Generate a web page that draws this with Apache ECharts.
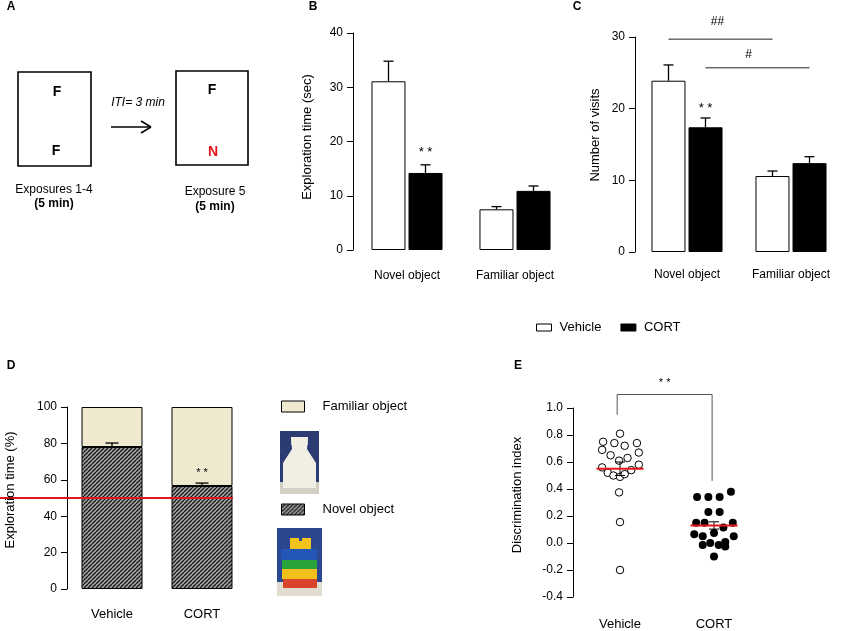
<!DOCTYPE html>
<html><head><meta charset="utf-8">
<script src="https://cdn.jsdelivr.net/npm/echarts@6/dist/echarts.min.js"></script>
<style>html,body{margin:0;padding:0;background:#fff}#c{width:843px;height:631px}</style>
</head><body><div id="c"></div>
<script>
// ---------- Panel B: exploration time (sec) ----------
const objCategories = ['Novel object', 'Familiar object'];
const explVehicle = [31.1, 7.5];
const explVehicleSem = [3.7, 0.5];
const explCort = [14.2, 10.9];
const explCortSem = [1.5, 0.9];
const explStar = [0, 17.9];
// ---------- Panel C: number of visits ----------
const visitsVehicle = [23.9, 10.6];
const visitsVehicleSem = [2.2, 0.7];
const visitsCort = [17.4, 12.4];
const visitsCortSem = [1.3, 0.9];
const visitsStar = [0, 20.0];
const visitsBracketLevels = [29.7, 25.7];
const visitsBracketLabels = ['##', '#'];
// ---------- Panel D: exploration time (%) ----------
const groups = ['Vehicle', 'CORT'];
const novelPct = [78.0, 56.6];
const novelPctSem = [2.2, 1.6];
const familiarPct = [22.0, 43.4];
const chanceLevel = 50;
const pctStar = [1, 63.7];
// ---------- Panel E: discrimination index ----------
const diVehicleX = [0.50,0.32,0.44,0.55,0.68,0.31,0.70,0.40,0.49,0.58,0.31,0.70,0.37,0.62,0.43,0.50,0.55,0.49,0.50,0.50];
const diVehicle  = [0.81,0.75,0.74,0.72,0.74,0.69,0.67,0.65,0.61,0.63,0.56,0.58,0.52,0.54,0.50,0.49,0.51,0.375,0.155,-0.20];
const diCortX = [1.32,1.44,1.56,1.68,1.44,1.56,1.31,1.40,1.70,1.60,1.29,1.38,1.50,1.71,1.38,1.46,1.55,1.62,1.62,1.50];
const diCort  = [0.34,0.34,0.34,0.38,0.23,0.23,0.15,0.15,0.15,0.115,0.065,0.05,0.075,0.05,-0.015,0.0,-0.015,0.007,-0.025,-0.10];
const diGroupX = [0.5, 1.5];
const diMean = [0.55, 0.13];
const diSem = [0.05, 0.027];
const diBracket = [[0.47, 0.95], [0.47, 1.10], [1.48, 1.10], [1.48, 0.46]];
const diStar = [0.975, 1.10];

const FF = '"Liberation Sans", Arial, Helvetica, sans-serif';
const chart = echarts.init(document.getElementById('c'));

function hatch() {
  const c = document.createElement('canvas');
  c.width = 4; c.height = 4;
  const g = c.getContext('2d');
  g.fillStyle = '#a3a3a3'; g.fillRect(0, 0, 4, 4);
  g.strokeStyle = '#1a1a1a'; g.lineWidth = 1.3;
  g.beginPath();
  for (const o of [-4, 0, 4]) { g.moveTo(o, 4); g.lineTo(o + 4, 0); }
  g.stroke();
  return { image: c, repeat: 'repeat' };
}

function yAx(grid, min, max, interval, fmt) {
  return {
    type: 'value', gridIndex: grid, min, max, interval,
    axisLine: { show: true, lineStyle: { color: '#000', width: 1 } },
    axisTick: { show: true, length: 6, lineStyle: { color: '#000' } },
    axisLabel: { color: '#000', fontSize: 12, fontFamily: FF, margin: 10, formatter: fmt },
    splitLine: { show: false }
  };
}
function xCat(grid, data, margin, size) {
  return {
    type: 'category', gridIndex: grid, data,
    axisLine: { show: false }, axisTick: { show: false },
    axisLabel: { color: '#000', fontSize: size, fontFamily: FF, margin, interval: 0 }
  };
}
function errSeries(xi, yi, means, sems, dx, cap) {
  return {
    type: 'custom', xAxisIndex: xi, yAxisIndex: yi, z: 5, silent: true,
    data: means.map((m, i) => [i, m, m + sems[i]]),
    renderItem(p, api) {
      const b = api.coord([api.value(0), api.value(1)]);
      const t = api.coord([api.value(0), api.value(2)]);
      const x = b[0] + dx;
      return { type: 'group', children: [
        { type: 'line', shape: { x1: x, y1: b[1], x2: x, y2: t[1] }, style: { stroke: '#000', lineWidth: 1.3 } },
        { type: 'line', shape: { x1: x - cap / 2, y1: t[1], x2: x + cap / 2, y2: t[1] }, style: { stroke: '#000', lineWidth: 1.3 } }
      ] };
    }
  };
}
function textSeries(xi, yi, point, label, dx, dy, size) {
  return {
    type: 'custom', xAxisIndex: xi, yAxisIndex: yi, z: 6, silent: true,
    data: [point],
    renderItem(p, api) {
      const c = api.coord([api.value(0), api.value(1)]);
      return { type: 'text', style: { text: label, x: c[0] + dx, y: c[1] + dy,
        align: 'center', verticalAlign: 'middle', textAlign: 'center', textVerticalAlign: 'middle',
        font: size + 'px ' + FF, fill: '#000' } };
    }
  };
}
function hBracket(xi, yi, level, label, dxBar, labelDx, labelDy) {
  return {
    type: 'custom', xAxisIndex: xi, yAxisIndex: yi, z: 6, silent: true,
    data: [[0, level], [1, level]],
    renderItem(p, api) {
      if (p.dataIndex !== 0) return null;
      const a = api.coord([0, level]), b = api.coord([1, level]);
      const x1 = a[0] + dxBar, x2 = b[0] + dxBar;
      return { type: 'group', children: [
        { type: 'line', shape: { x1, y1: a[1], x2, y2: a[1] }, style: { stroke: '#222', lineWidth: 1 } },
        { type: 'text', style: { text: label, x: (x1 + x2) / 2 + labelDx, y: a[1] - labelDy,
          align: 'center', verticalAlign: 'middle', textAlign: 'center', textVerticalAlign: 'middle',
          font: '12px ' + FF, fill: '#000' } }
      ] };
    }
  };
}

const BW = 34, OFF = 18.5;
const vehStyle = { color: '#fff', borderColor: '#000', borderWidth: 1 };
const cortStyle = { color: '#000', borderColor: '#000', borderWidth: 1 };

function box(x, y, w, h, fill, stroke, lw) {
  return { type: 'rect', z: 10, shape: { x, y, width: w, height: h }, style: { fill, stroke: stroke || null, lineWidth: lw || 0 } };
}
function ln(x1, y1, x2, y2, lw) {
  return { type: 'line', z: 10, shape: { x1, y1, x2, y2 }, style: { stroke: '#000', lineWidth: lw || 1.5 } };
}
function T(x, y, text, size, weight, style, color, rot) {
  return { type: 'text', x, y, rotation: rot || 0, z: 10, style: {
    text, font: (style || 'normal') + ' ' + (weight || 'normal') + ' ' + size + 'px ' + FF,
    fill: color || '#000', align: 'center', verticalAlign: 'middle', textAlign: 'center', textVerticalAlign: 'middle' } };
}

const graphics = [
  // panel letters
  T(11, 7, 'A', 12, 'bold'), T(313, 7, 'B', 12, 'bold'), T(577, 7, 'C', 12, 'bold'),
  T(11, 366, 'D', 12, 'bold'), T(518, 366, 'E', 12, 'bold'),
  // y-axis titles
  T(307, 137, 'Exploration time (sec)', 13, 'normal', 'normal', '#000', Math.PI / 2),
  T(595, 135, 'Number of visits', 13, 'normal', 'normal', '#000', Math.PI / 2),
  T(10, 490, 'Exploration time (%)', 13, 'normal', 'normal', '#000', Math.PI / 2),
  T(517, 495, 'Discrimination index', 13, 'normal', 'normal', '#000', Math.PI / 2),
  // panel A scheme
  box(18, 72, 73, 94, '#fff', '#000', 1.6),
  box(176, 71, 72, 94, '#fff', '#000', 1.6),
  T(57, 92, 'F', 14, 'bold'), T(56, 151, 'F', 14, 'bold'),
  T(212, 90, 'F', 14, 'bold'), T(213, 152, 'N', 14, 'bold', 'normal', '#e8141b'),
  T(138, 103, 'ITI= 3 min', 12, 'normal', 'italic'),
  ln(111, 127, 151, 127), ln(141, 121, 151, 127), ln(141, 133, 151, 127),
  T(54, 190, 'Exposures 1-4', 12), T(54, 204, '(5 min)', 12, 'bold'),
  T(215, 192, 'Exposure 5', 12), T(215, 207, '(5 min)', 12, 'bold'),
  // bottle photo
  box(280, 431, 39, 51, '#2c3c72'), box(280, 482, 39, 12, '#d3cfc2'),
  { type: 'polygon', z: 11, shape: { points: [[291, 437], [308, 437], [307, 449], [316, 463], [316, 488], [283, 488], [283, 463], [292, 449]] },
    style: { fill: '#f1eee4' } },
  box(291, 437, 17, 8, '#b9bccb'),
  // lego photo
  box(277, 528, 45, 54, '#2a478f'), box(277, 582, 45, 14, '#e0dccf'),
  box(290, 538, 21, 11, '#f3c21c'), box(299, 538, 3, 3, '#2a478f'),
  box(281, 549, 36, 11, '#2456b8'),
  box(282, 560, 35, 9, '#27a43c'),
  box(282, 569, 35, 10, '#f4c01b'),
  box(283, 579, 34, 9, '#d9432b')
];

const option = {
  animation: false,
  backgroundColor: '#fff',
  textStyle: { fontFamily: FF },
  legend: [
    { data: ['Vehicle', 'CORT'], left: 536, top: 321, padding: 0, itemWidth: 15, itemHeight: 7, itemGap: 19, icon: 'rect',
      selectedMode: false, itemStyle: { borderWidth: 1 },
      textStyle: { fontSize: 13, color: '#000', fontFamily: FF, padding: [0, 0, 0, 3] } },
    { data: ['Familiar object', 'Novel object'], orient: 'vertical', left: 281, top: 400, padding: 0, itemWidth: 23, itemHeight: 11,
      itemGap: 90, icon: 'rect', selectedMode: false, itemStyle: { borderWidth: 1 },
      textStyle: { fontSize: 13, color: '#000', fontFamily: FF, padding: [0, 0, 0, 13] } }
  ],
  grid: [
    { left: 353, top: 33, width: 216, height: 217 },
    { left: 635, top: 37, width: 217, height: 215 },
    { left: 67, top: 407, width: 180, height: 182 },
    { left: 573, top: 408, width: 188, height: 189 },
    { left: 0, top: 407, width: 233, height: 182 }
  ],
  xAxis: [
    xCat(0, objCategories, 20, 12),
    xCat(1, objCategories, 17, 12),
    xCat(2, groups, 19, 13),
    { type: 'value', gridIndex: 3, min: 0, max: 2, interval: 0.5,
      axisLine: { show: false }, axisTick: { show: false }, splitLine: { show: false },
      axisLabel: { color: '#000', fontSize: 13, fontFamily: FF, margin: 21,
        formatter: v => (Math.abs(v - diGroupX[0]) < 1e-6 ? groups[0] : Math.abs(v - diGroupX[1]) < 1e-6 ? groups[1] : '') } },
    { type: 'value', gridIndex: 4, min: 0, max: 1, show: false }
  ],
  yAxis: [
    yAx(0, 0, 40, 10),
    yAx(1, 0, 30, 10),
    yAx(2, 0, 100, 20),
    yAx(3, -0.4, 1.0, 0.2, v => (Math.abs(v) < 1e-9 ? 0 : v).toFixed(1)),
    { type: 'value', gridIndex: 4, min: 0, max: 100, show: false }
  ],
  series: [
    // B
    { type: 'bar', name: 'Vehicle', xAxisIndex: 0, yAxisIndex: 0, data: explVehicle, barWidth: BW, barGap: '9%', itemStyle: vehStyle },
    { type: 'bar', name: 'CORT', xAxisIndex: 0, yAxisIndex: 0, data: explCort, barWidth: BW, barGap: '9%', itemStyle: cortStyle },
    errSeries(0, 0, explVehicle, explVehicleSem, -OFF, 10),
    errSeries(0, 0, explCort, explCortSem, OFF, 10),
    textSeries(0, 0, explStar, '* *', OFF, 0, 13),
    // C
    { type: 'bar', name: 'Vehicle', xAxisIndex: 1, yAxisIndex: 1, data: visitsVehicle, barWidth: BW, barGap: '9%', itemStyle: vehStyle },
    { type: 'bar', name: 'CORT', xAxisIndex: 1, yAxisIndex: 1, data: visitsCort, barWidth: BW, barGap: '9%', itemStyle: cortStyle },
    errSeries(1, 1, visitsVehicle, visitsVehicleSem, -OFF, 10),
    errSeries(1, 1, visitsCort, visitsCortSem, OFF, 10),
    textSeries(1, 1, visitsStar, '* *', OFF, 0, 13),
    hBracket(1, 1, visitsBracketLevels[0], visitsBracketLabels[0], -OFF, -3, 17),
    hBracket(1, 1, visitsBracketLevels[1], visitsBracketLabels[1], OFF, -9, 13),
    // D
    { type: 'bar', name: 'Novel object', stack: 'pct', xAxisIndex: 2, yAxisIndex: 2, data: novelPct, barWidth: 61,
      itemStyle: { color: hatch(), borderColor: '#000', borderWidth: 1 } },
    { type: 'bar', name: 'Familiar object', stack: 'pct', xAxisIndex: 2, yAxisIndex: 2, data: familiarPct, barWidth: 61,
      itemStyle: { color: '#eee9cf', borderColor: '#000', borderWidth: 1 } },
    errSeries(2, 2, novelPct, novelPctSem, 0, 13),
    textSeries(2, 2, pctStar, '* *', 0, 0, 11),
    { type: 'line', xAxisIndex: 4, yAxisIndex: 4, z: 8, symbol: 'none', silent: true,
      data: [[0, chanceLevel], [1, chanceLevel]], lineStyle: { color: '#e8141b', width: 2 } },
    // E
    { type: 'scatter', name: 'di-vehicle', xAxisIndex: 3, yAxisIndex: 3, symbolSize: 7.5,
      data: diVehicle.map((v, i) => [diVehicleX[i], v]),
      itemStyle: { color: '#fff', borderColor: '#000', borderWidth: 1, opacity: 1 } },
    { type: 'scatter', name: 'di-cort', xAxisIndex: 3, yAxisIndex: 3, symbolSize: 8,
      data: diCort.map((v, i) => [diCortX[i], v]),
      itemStyle: { color: '#000', opacity: 1 } },
    { type: 'custom', xAxisIndex: 3, yAxisIndex: 3, z: 5, silent: true,
      data: diGroupX.map((x, i) => [x, diMean[i], diSem[i]]),
      renderItem(p, api) {
        const x = api.value(0), m = api.value(1), s = api.value(2);
        const l = api.coord([x - 0.25, m]), r = api.coord([x + 0.25, m]);
        const t = api.coord([x, m + s]), b = api.coord([x, m - s]);
        const cw = 5;
        return { type: 'group', children: [
          { type: 'line', shape: { x1: t[0], y1: t[1], x2: b[0], y2: b[1] }, style: { stroke: '#000', lineWidth: 1 } },
          { type: 'line', shape: { x1: t[0] - cw, y1: t[1], x2: t[0] + cw, y2: t[1] }, style: { stroke: '#000', lineWidth: 1 } },
          { type: 'line', shape: { x1: b[0] - cw, y1: b[1], x2: b[0] + cw, y2: b[1] }, style: { stroke: '#000', lineWidth: 1 } },
          { type: 'line', shape: { x1: l[0], y1: l[1], x2: r[0], y2: r[1] }, style: { stroke: '#e8141b', lineWidth: 2 } }
        ] };
      } },
    { type: 'line', xAxisIndex: 3, yAxisIndex: 3, z: 6, symbol: 'none', silent: true, clip: false,
      data: diBracket, lineStyle: { color: '#555', width: 1 } },
    textSeries(3, 3, diStar, '* *', 0, -12, 11)
  ],
  graphic: graphics
};
chart.setOption(option);
</script></body></html>
